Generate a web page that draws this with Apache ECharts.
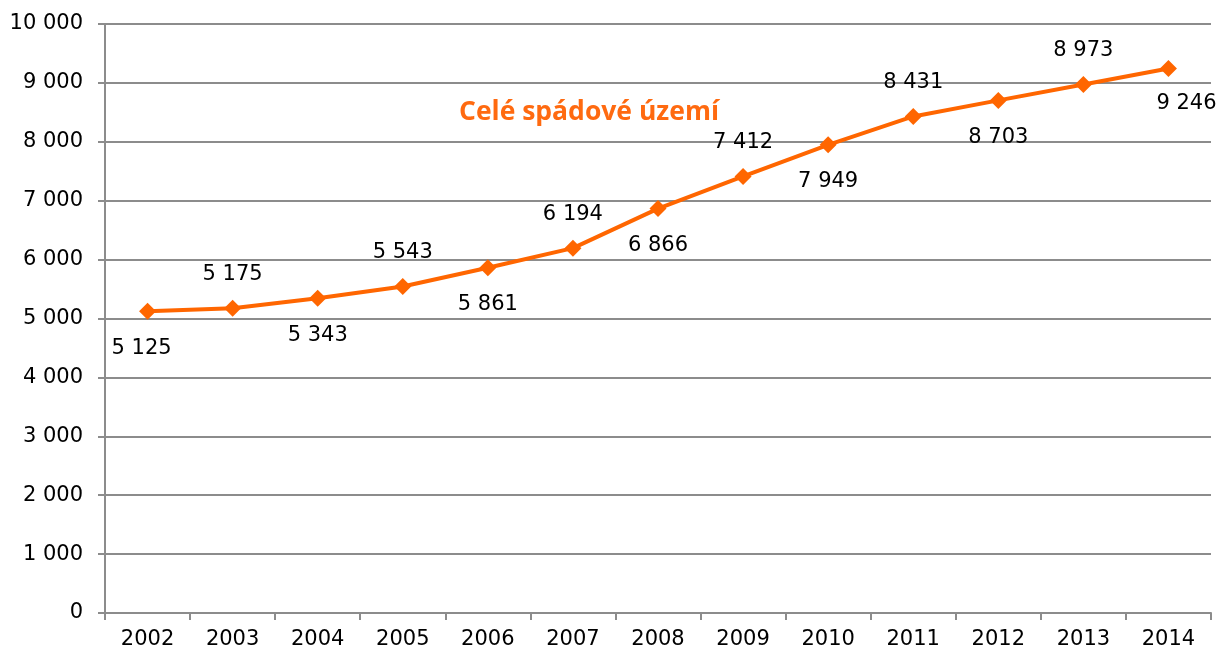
<!DOCTYPE html>
<html>
<head>
<meta charset="utf-8">
<script src="https://cdn.jsdelivr.net/npm/echarts@6/dist/echarts.min.js"></script>
<style>
    html, body { margin: 0; padding: 0; background: #fff; }
    #chart { width: 1219px; height: 652px; }
</style>
</head>
<body>
<div id="chart"></div>
<script>
const years = ["2002", "2003", "2004", "2005", "2006", "2007", "2008", "2009", "2010", "2011", "2012", "2013", "2014"];
const values = [5125, 5175, 5343, 5543, 5861, 6194, 6866, 7412, 7949, 8431, 8703, 8973, 9246];
const labelSides = ["bottom", "top", "bottom", "top", "bottom", "top", "bottom", "top", "bottom", "top", "bottom", "top", "bottom"];
const seriesName = "Celé spádové území";

const fmt = (v) => String(v).replace(/\B(?=(\d{3})+(?!\d))/g, " ");

// first and last value labels are nudged sideways in the original
const labelNudge = (i) => (i === 0 ? [-6, 0] : i === values.length - 1 ? [18, -2] : [0, 0]);

const getOption = () => {
    return {
        animation: false,
        textStyle: { fontFamily: "DejaVu Sans" },
        grid: {
            left: 105,
            right: 8,
            top: 24,
            bottom: 39
        },
        graphic: [
            {
                type: "text",
                left: 459,
                top: 99,
                style: {
                    text: seriesName,
                    fill: "#ff6a10",
                    font: "bold 26.5px 'Open Sans'"
                }
            }
        ],
        xAxis: {
            type: "category",
            data: years,
            boundaryGap: true,
            axisLine: { lineStyle: { color: "#8c8c8c", width: 2 } },
            axisTick: { show: true, length: 7, lineStyle: { color: "#8c8c8c", width: 2 } },
            axisLabel: { color: "#000", fontSize: 21, margin: 16 }
        },
        yAxis: {
            type: "value",
            min: 0,
            max: 10000,
            interval: 1000,
            axisLine: { show: true, lineStyle: { color: "#8c8c8c", width: 2 } },
            axisTick: { show: true, length: 7, lineStyle: { color: "#8c8c8c", width: 2 } },
            splitLine: { lineStyle: { color: "#8c8c8c", width: 2 } },
            axisLabel: { color: "#000", fontSize: 21, margin: 22, formatter: fmt }
        },
        series: [
            {
                name: seriesName,
                type: "line",
                data: values.map((v, i) => ({
                    value: v,
                    label: {
                        position: labelSides[i],
                        distance: labelSides[i] === "top" ? 15 : 18,
                        offset: labelNudge(i)
                    }
                })),
                symbol: "diamond",
                symbolSize: 17,
                lineStyle: { color: "#ff6600", width: 4 },
                itemStyle: { color: "#ff6600" },
                label: {
                    show: true,
                    color: "#000",
                    fontSize: 21,
                    formatter: (p) => fmt(p.value)
                }
            }
        ]
    };
};

const chart = echarts.init(document.getElementById("chart"));
chart.setOption(getOption());
</script>
</body>
</html>
